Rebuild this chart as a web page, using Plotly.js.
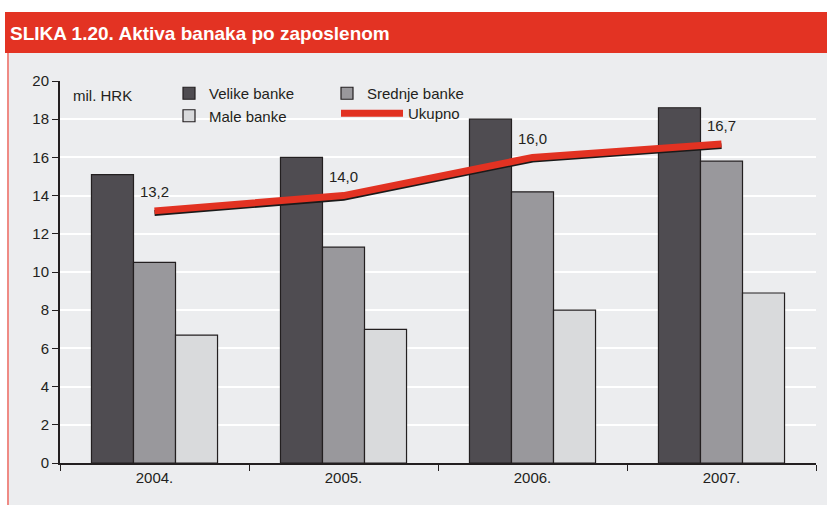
<!DOCTYPE html>
<html>
<head>
<meta charset="utf-8" />
<title>SLIKA 1.20. Aktiva banaka po zaposlenom</title>
<script src="https://cdn.plot.ly/plotly-3.0.1.min.js"></script>
<style>
  html, body { margin: 0; padding: 0; background: #fff; }
  #plot { width: 827px; height: 505px; }
</style>
</head>
<body>
<div id="plot"></div>
<script>
// values (mil. HRK)
const years = ['2004.', '2005.', '2006.', '2007.'];
const velike = [15.1, 16.0, 18.0, 18.6];
const srednje = [10.5, 11.3, 14.2, 15.8];
const male = [6.7, 7.0, 8.0, 8.9];
const ukupno = [13.2, 14.0, 16.0, 16.7];

const W = 827, H = 505;
const L = 60, R = 11, T = 81, B = 42;
const pw = W - L - R, ph = H - T - B;
// pixel -> paper coords (for the frame shapes)
const px = x => (x - L) / pw;
const py = y => (H - B - y) / ph;

const txt = '#231f20';
const fam = 'Liberation Sans, Arial, sans-serif';
const barLine = { color: '#231f20', width: 1.2 };

function bar(name, vals, color, legend) {
    return {
        type: 'bar', name: name, x: years, y: vals,
        marker: { color: color, line: barLine },
        legend: legend, hoverinfo: 'skip'
    };
}

const traces = [
    bar('Velike banke', velike, '#4f4c51', 'legend'),
    bar('Srednje banke', srednje, '#99989c', 'legend2'),
    bar('Male banke', male, '#d9dadc', 'legend'),
    // dark shadow under the total line (same data, axis shifted a bit)
    {
        type: 'scatter', mode: 'lines', x: years, y: ukupno, yaxis: 'y2',
        line: { color: '#1a1a1a', width: 6 }, showlegend: false, hoverinfo: 'skip'
    },
    {
        type: 'scatter', mode: 'lines+markers+text', name: 'Ukupno', x: years, y: ukupno, yaxis: 'y3',
        line: { color: '#e23222', width: 7 },
        // invisible markers only to lift the value labels off the line
        marker: { size: 14, color: 'rgba(0,0,0,0)', line: { width: 0 } },
        text: ukupno.map(v => v.toFixed(1).replace('.', ',')),
        textposition: 'top center',
        textfont: { family: fam, size: 15, color: txt },
        legend: 'legend3', hoverinfo: 'skip'
    }
];

const legFont = { family: fam, size: 15, color: txt };
const layout = {
    width: W, height: H,
    margin: { l: L, r: R, t: T, b: B },
    paper_bgcolor: '#ffffff',
    plot_bgcolor: 'rgba(0,0,0,0)',
    font: { family: fam, size: 15, color: txt },
    title: {
        text: 'SLIKA 1.20. Aktiva banaka po zaposlenom',
        font: { family: 'Liberation Sans Narrow, Arial Narrow, Liberation Sans, sans-serif', size: 19, color: '#ffffff', weight: 'bold' },
        x: 10 / W, xanchor: 'left', xref: 'container',
        y: 1 - 33 / H, yanchor: 'middle', yref: 'container'
    },
    barmode: 'group',
    bargap: 0.333,
    bargroupgap: 0,
    xaxis: {
        type: 'category',
        tickson: 'boundaries', ticks: 'outside', ticklen: 6, tickwidth: 1, tickcolor: '#231f20',
        showline: true, linecolor: '#231f20', linewidth: 2,
        showgrid: false, fixedrange: true,
        tickfont: { size: 15, color: txt }
    },
    yaxis: {
        range: [0, 20], dtick: 2,
        ticks: 'outside', ticklen: 6, tickwidth: 1, tickcolor: '#231f20',
        showline: true, linecolor: '#231f20', linewidth: 2,
        gridcolor: '#ffffff', gridwidth: 2, zeroline: false,
        tickfont: { size: 15, color: txt }, fixedrange: true
    },
    yaxis2: { overlaying: 'y', range: [0.11, 20.11], visible: false, fixedrange: true },
    yaxis3: { overlaying: 'y', range: [0, 20], visible: false, fixedrange: true },
    legend: {
        x: px(169), xanchor: 'left', y: py(77), yanchor: 'top',
        bgcolor: 'rgba(0,0,0,0)', font: legFont, tracegroupgap: 0
    },
    legend2: {
        x: px(327), xanchor: 'left', y: py(77), yanchor: 'top',
        bgcolor: 'rgba(0,0,0,0)', font: legFont
    },
    legend3: {
        x: px(336), xanchor: 'left', y: py(97), yanchor: 'top',
        bgcolor: 'rgba(0,0,0,0)', font: legFont, itemwidth: 62
    },
    annotations: [{
        text: 'mil. HRK', xref: 'paper', yref: 'paper',
        x: px(71), y: py(96), xanchor: 'left', yanchor: 'middle',
        showarrow: false, font: { size: 15, color: txt }
    }],
    shapes: [
        { type: 'rect', xref: 'paper', yref: 'paper', layer: 'below',
          x0: px(9), x1: px(W + 2), y0: py(H + 2), y1: py(53),
          fillcolor: '#ecedef', line: { width: 0 } },
        { type: 'rect', xref: 'paper', yref: 'paper', layer: 'below',
          x0: px(5), x1: px(W + 2), y0: py(53), y1: py(12),
          fillcolor: '#e33323', line: { width: 0 } },
        { type: 'line', xref: 'paper', yref: 'paper', layer: 'below',
          x0: px(8), x1: px(8), y0: py(53), y1: py(H + 2),
          line: { color: '#ef8b85', width: 2 } }
    ]
};

Plotly.newPlot('plot', traces, layout, { staticPlot: true, displayModeBar: false });
</script>
</body>
</html>
